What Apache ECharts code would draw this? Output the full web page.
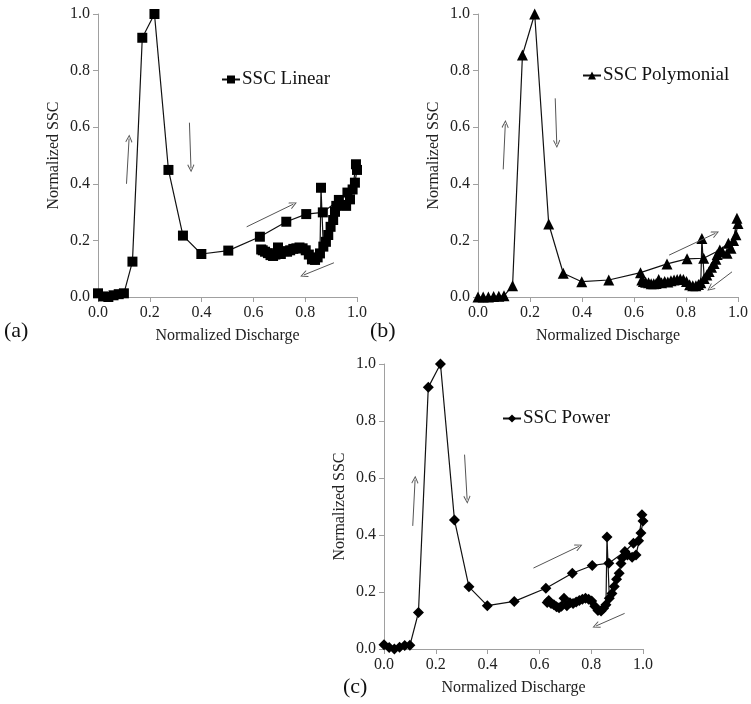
<!DOCTYPE html>
<html>
<head>
<meta charset="utf-8">
<script src="https://cdn.jsdelivr.net/npm/echarts@6/dist/echarts.min.js"></script>
<style>
html,body{margin:0;padding:0;background:#fff;}
#chart{width:751px;height:704px;}
</style>
</head>
<body>
<div id="chart"></div>
<script>
// Normalized discharge (shared by the three panels, in time order)
var discharge = [0, 0.02, 0.04, 0.06, 0.08, 0.1,
  0.133, 0.171, 0.218, 0.272, 0.328, 0.399, 0.503, 0.625, 0.727, 0.804, 0.868,
  0.93, 0.963, 0.983, 0.996, 1.0,
  0.992, 0.973, 0.958, 0.94, 0.92, 0.915, 0.908, 0.898, 0.889, 0.88, 0.87,
  0.861, 0.857, 0.848, 0.838, 0.826, 0.814, 0.802, 0.79, 0.778, 0.766,
  0.754, 0.742, 0.73, 0.718, 0.706, 0.695, 0.685, 0.676, 0.666, 0.656,
  0.645, 0.636, 0.63];

var sscLinear = [0.013, 0.002, 0.0, 0.006, 0.01, 0.013,
  0.125, 0.916, 1.0, 0.449, 0.217, 0.152, 0.164, 0.213, 0.266, 0.293, 0.299,
  0.343, 0.369, 0.38, 0.469, 0.449,
  0.404, 0.345, 0.322, 0.325, 0.322, 0.301, 0.272, 0.248, 0.219, 0.195, 0.178,
  0.386, 0.154, 0.14, 0.131, 0.133, 0.15, 0.165, 0.172, 0.175, 0.172,
  0.17, 0.165, 0.16, 0.162, 0.152, 0.175, 0.15, 0.145, 0.148, 0.155,
  0.16, 0.165, 0.168];

var sscPolynomial = [0.0, 0.0, 0.0, 0.002, 0.003, 0.004,
  0.04, 0.855, 1.0, 0.258, 0.084, 0.054, 0.06, 0.086, 0.117, 0.135, 0.137,
  0.166, 0.19, 0.2, 0.278, 0.26,
  0.22, 0.172, 0.155, 0.16, 0.15, 0.133, 0.118, 0.105, 0.09, 0.078, 0.065,
  0.207, 0.05, 0.044, 0.04, 0.04, 0.043, 0.055, 0.062, 0.064, 0.062,
  0.06, 0.057, 0.053, 0.055, 0.05, 0.062, 0.048, 0.047, 0.047, 0.05,
  0.052, 0.055, 0.06];

var sscPower = [0.015, 0.005, 0.0, 0.006, 0.012, 0.013,
  0.128, 0.918, 1.0, 0.453, 0.218, 0.152, 0.167, 0.213, 0.266, 0.293, 0.301,
  0.342, 0.371, 0.38, 0.471, 0.449,
  0.407, 0.33, 0.322, 0.33, 0.319, 0.3, 0.266, 0.245, 0.219, 0.195, 0.178,
  0.393, 0.155, 0.143, 0.133, 0.135, 0.15, 0.168, 0.175, 0.178, 0.175,
  0.17, 0.165, 0.16, 0.162, 0.152, 0.178, 0.15, 0.145, 0.148, 0.155,
  0.16, 0.17, 0.163];

var seriesNames = ['SSC Linear', 'SSC Polymonial', 'SSC Power'];
var panelLabels = ['(a)', '(b)', '(c)'];

// hysteresis direction arrows [x1, y1, x2, y2] in data units
var arrowsA = [[0.11, 0.40, 0.12, 0.56], [0.353, 0.616, 0.359, 0.455], [0.574, 0.248, 0.754, 0.328], [0.911, 0.121, 0.795, 0.078]];
var arrowsB = [[0.097, 0.451, 0.105, 0.611], [0.297, 0.702, 0.303, 0.541], [0.735, 0.148, 0.913, 0.225], [0.977, 0.089, 0.894, 0.031]];
var arrowsC = [[0.111, 0.432, 0.12, 0.594], [0.311, 0.682, 0.321, 0.524], [0.577, 0.284, 0.752, 0.36], [0.929, 0.125, 0.819, 0.081]];

var FONT = '"Liberation Serif", "Times New Roman", serif';
var chart = echarts.init(document.getElementById('chart'), null, {renderer: 'canvas'});

function pairs(ys) { return discharge.map(function (x, i) { return [x, ys[i]]; }); }
function arrowData(arr) {
  return arr.map(function (a) { return [{coord: [a[0], a[1]]}, {coord: [a[2], a[3]]}]; });
}
var grids = [
  {left: 98, top: 14, width: 259, height: 283},
  {left: 478, top: 14, width: 261, height: 283},
  {left: 384, top: 364, width: 259, height: 285}
];
function xAx(i) {
  return {
    gridIndex: i, type: 'value', min: 0, max: 1, interval: 0.2,
    name: 'Normalized Discharge', nameLocation: 'middle', nameGap: 31,
    nameTextStyle: {fontFamily: FONT, fontSize: 16, color: '#222'},
    axisLine: {show: true, onZero: false, lineStyle: {color: '#a0a0a0', width: 1}},
    axisTick: {show: true, length: 5, lineStyle: {color: '#a0a0a0'}},
    axisLabel: {fontFamily: FONT, fontSize: 16, color: '#222', margin: 8,
      formatter: function (v) { return v.toFixed(1); }},
    splitLine: {show: false}
  };
}
function yAx(i) {
  return {
    gridIndex: i, type: 'value', min: 0, max: 1, interval: 0.2,
    name: 'Normalized SSC', nameLocation: 'middle', nameGap: 36, nameRotate: 90,
    nameTextStyle: {fontFamily: FONT, fontSize: 16, color: '#222'},
    axisLine: {show: true, onZero: false, lineStyle: {color: '#a0a0a0', width: 1}},
    axisTick: {show: true, length: 5, lineStyle: {color: '#a0a0a0'}},
    axisLabel: {fontFamily: FONT, fontSize: 16, color: '#222', margin: 8,
      formatter: function (v) { return v.toFixed(1); }},
    splitLine: {show: false}
  };
}
var chevron = 'path://M5,0 L10,9 L9,10 L5,2.5 L1,10 L0,9 Z';
function series(i, ys, symbol, size, arrows) {
  return {
    name: seriesNames[i], type: 'line', xAxisIndex: i, yAxisIndex: i,
    data: pairs(ys), symbol: symbol, symbolSize: size, clip: false,
    itemStyle: {color: '#000'}, lineStyle: {color: '#111', width: 1.2},
    animation: false,
    markLine: {
      silent: true, animation: false,
      symbol: ['none', chevron], symbolSize: [7, 8],
      lineStyle: {color: '#555', width: 1, type: 'solid'},
      label: {show: false},
      emphasis: {disabled: true},
      data: arrowData(arrows)
    }
  };
}
function legend(i, left, top) {
  return {
    data: [seriesNames[i]], left: left, top: top, itemWidth: 18, itemHeight: 10, itemGap: 0,
    textStyle: {fontFamily: FONT, fontSize: 19, color: '#111', padding: [0, 0, 0, -3]},
    selectedMode: false, padding: 0
  };
}
var option = {
  backgroundColor: '#fff',
  animation: false,
  grid: grids,
  xAxis: [xAx(0), xAx(1), xAx(2)],
  yAxis: [yAx(0), yAx(1), yAx(2)],
  legend: [legend(0, 221, 70), legend(1, 582, 66), legend(2, 502, 409)],
  series: [
    series(0, sscLinear, 'rect', 10, arrowsA),
    series(1, sscPolynomial, 'triangle', 11, arrowsB),
    series(2, sscPower, 'diamond', 11, arrowsC)
  ],
  graphic: [
    {type: 'text', left: 4, top: 320, style: {text: panelLabels[0], font: '22px ' + FONT, fill: '#111'}},
    {type: 'text', left: 370, top: 320, style: {text: panelLabels[1], font: '22px ' + FONT, fill: '#111'}},
    {type: 'text', left: 343, top: 676, style: {text: panelLabels[2], font: '22px ' + FONT, fill: '#111'}}
  ]
};
chart.setOption(option);
</script>
</body>
</html>
